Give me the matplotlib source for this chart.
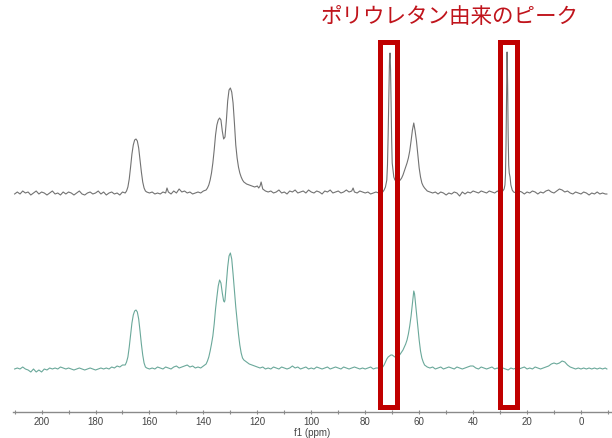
import matplotlib
matplotlib.use("Agg")
import matplotlib.pyplot as plt
from matplotlib.patches import Rectangle
from matplotlib.ticker import MultipleLocator

plt.rcParams["font.family"] = ["Liberation Sans", "DejaVu Sans"]

# ---- spectrum traces (ppm, intensity above baseline) ----
top_ppm = [210, 209, 208, 207, 206, 205, 204, 203, 202, 201, 200, 199, 198, 197, 196, 195, 194, 193, 192, 191,
           190, 189, 188, 187, 186, 185, 184, 183, 182, 181, 180, 179, 178, 177, 176, 175, 174, 173, 172, 171,
           170, 169, 168.5, 168, 167.5, 167, 166.5, 166, 165.5, 165, 164.5, 164, 163.5, 163, 162.5, 162, 161.5, 161,
           160, 159, 158, 157, 156, 155, 154, 153.5, 153, 152, 151, 150, 149, 148, 147, 146, 145, 144, 143, 142,
           141, 140, 139, 138.5, 138, 137.5, 137, 136.5, 136, 135.5, 135, 134.5, 134, 133.5, 133, 132.5, 132, 131.5,
           131, 130.5, 130, 129.5, 129, 128.5, 128, 127.5, 127, 126.5, 126, 125.5, 125, 124, 123, 122, 121, 120,
           119.5, 119, 118.6, 118, 117, 116, 115, 114, 113, 112, 111, 110, 109, 108, 107, 106, 105, 104, 103, 102,
           101, 100, 99, 98, 97, 96, 95, 94, 93, 92, 91, 90, 89, 88, 87, 86, 85, 84.5, 84, 83, 82, 81, 80, 79, 78,
           77, 76, 75, 74, 73.5, 73, 72.5, 72, 71.75, 71.5, 71.25, 71, 70.8, 70.6, 70.4, 70.2, 70, 69.7, 69.4, 69,
           68.5, 68, 67.5, 67, 66.5, 66, 65.5, 65, 64.5, 64, 63.5, 63, 62.5, 62, 61.5, 61, 60.5, 60, 59.5, 59, 58.5,
           58, 57, 56, 55, 54, 53, 52, 51, 50, 49, 48, 47, 46, 45, 44, 43, 42, 41, 40, 39, 38, 37, 36, 35, 34, 33,
           32, 31, 30, 29.5, 29, 28.5, 28.2, 28, 27.8, 27.6, 27.4, 27.2, 27, 26.8, 26.6, 26.3, 26, 25.5, 25, 24, 23,
           22, 21, 20, 19, 18, 17, 16, 15, 14, 13, 12, 11, 10, 9, 8, 7, 6, 5, 4, 3, 2, 1, 0, -1, -2, -3, -4, -5,
           -6, -7, -8, -9, -9.6]
top_int = [1, 3, 1, 4, 2, 3, 0, 2, 4, 1, 3, 2, 0, 2, 4, 1, 2, 0, 3, 1,
           3, 2, 0, 2, 4, 1, 0, 2, 3, 1, 2, 4, 1, 3, 0, 2, 3, 1, 2, 0,
           3, 2, 4, 8, 16, 28, 41, 50, 55, 56, 54, 47, 35, 23, 13, 7, 4, 3,
           2, 3, 1, 2, 1, 3, 2, 7, 3, 1, 4, 2, 6, 3, 4, 2, 3, 1, 2, 3,
           2, 4, 5, 7, 10, 15, 22, 32, 45, 60, 70, 75, 77, 75, 64, 56, 58, 74,
           94, 105, 107, 103, 92, 72, 50, 37, 28, 22, 18, 15, 13, 11, 10, 9, 8, 9,
           7, 9, 13, 6, 4, 3, 4, 2, 3, 5, 2, 3, 1, 4, 3, 5, 2, 3, 4, 2,
           5, 3, 2, 4, 3, 1, 4, 3, 5, 2, 3, 4, 2, 3, 5, 3, 4, 7, 3, 2, 4, 3, 2, 3, 1,
           2, 3, 2, 3, 3, 5, 8, 15, 30, 60, 100, 135, 142, 125, 90, 55, 32, 25, 18, 15,
           14, 13, 14, 15, 17, 20, 24, 28, 32, 37, 44, 54, 65, 72, 64, 54, 40, 27, 18, 12, 9,
           7, 4, 3, 2, 3, 1, 3, 2, 0, 2, 1, 3, 2, -1, 3, 1, 3, 2, 4, 3, 2, 4, 3, 2, 4, 3,
           2, 4, 2, 3, 4, 6, 10, 20, 50, 100, 143, 110, 60, 30, 22, 18, 10, 5, 3, 2, 4,
           3, 1, 3, 2, 4, 3, 1, 3, 2, 4, 5, 3, 2, 4, 6, 5, 3, 4, 2, 1, 3, 2, 1, 3, 2, 0, 2, 1,
           3, 1, 2, 1, 1]

bot_ppm = [210, 209, 208, 207, 206, 205, 204, 203, 202, 201, 200, 199, 198, 197, 196, 195, 194, 193, 192, 191,
           190, 189, 188, 187, 186, 185, 184, 183, 182, 181, 180, 179, 178, 177, 176, 175, 174, 173, 172, 171,
           170, 169, 168.5, 168, 167.5, 167, 166.5, 166, 165.5, 165, 164.5, 164, 163.5, 163, 162.5, 162, 161.5, 161,
           160, 159, 158, 157, 156, 155, 154, 153, 152, 151, 150, 149, 148, 147, 146, 145, 144, 143, 142, 141,
           140, 139, 138.5, 138, 137.5, 137, 136.5, 136, 135.5, 135, 134.5, 134, 133.5, 133, 132.5, 132.2, 132, 131.5,
           131, 130.5, 130, 129.5, 129, 128.5, 128, 127.5, 127, 126.5, 126, 125.5, 125, 124, 123, 122, 121, 120,
           119, 118, 117, 116, 115, 114, 113, 112, 111, 110, 109, 108, 107, 106, 105, 104, 103, 102, 101, 100,
           99, 98, 97, 96, 95, 94, 93, 92, 91, 90, 89, 88, 87, 86, 85, 84, 83, 82, 81, 80, 79, 78, 77, 76, 75,
           74, 73.5, 73, 72.5, 72, 71.5, 71, 70.5, 70, 69.5, 69, 68.5, 68, 67.5, 67, 66.5, 66, 65.5, 65, 64.5, 64,
           63.5, 63, 62.5, 62.2, 62, 61.7, 61.4, 61, 60.5, 60, 59.5, 59, 58.5, 58, 57, 56, 55, 54, 53, 52, 51, 50,
           49, 48, 47, 46, 45, 44, 43, 42, 41, 40, 39, 38, 37, 36, 35, 34, 33, 32, 31, 30, 29, 28, 27, 26, 25, 24,
           23, 22, 21, 20, 19, 18, 17, 16, 15, 14, 13, 12, 11, 10, 9, 8, 7, 6, 5, 4, 3, 2, 1, 0, -1, -2, -3, -4,
           -5, -6, -7, -8, -9, -9.6]
bot_int = [0, 1, 0, 2, 0, -1, -3, 0, -3, -1, -3, 0, -1, 1, 0, 1, 0, 2, 1, 0,
           1, 0, -1, 0, 1, 0, -1, 0, 1, 0, -1, 0, 1, 0, 1, 0, 2, 1, 3, 2,
           4, 4, 7, 12, 22, 34, 46, 54, 58, 59, 57, 50, 38, 25, 14, 6, 2, 1,
           0, 1, 0, 2, 1, 0, 2, 1, 0, 2, 3, 1, 2, 3, 4, 2, 3, 1, 2, 1,
           3, 5, 8, 12, 18, 25, 33, 45, 60, 72, 83, 89, 86, 76, 68, 67, 69, 85,
           102, 113, 116, 110, 95, 78, 62, 48, 35, 24, 16, 11, 9, 7, 5, 4, 3, 2,
           1, 2, 0, 1, 0, 2, 1, 0, 2, 1, 0, 1, 3, 1, 2, 0, 1, 2, 0, 1,
           0, 2, 1, 0, 1, 2, 0, 1, 2, 1, 0, 2, 1, 0, 1, 2, 1, 0, 1, 0, 1, 2, 0, 1, 1,
           1, 2, 4, 7, 10, 12, 13, 14, 14, 13, 12, 12, 12, 13, 15, 17, 19, 22, 25, 29, 35,
           43, 53, 65, 73, 78, 75, 67, 56, 42, 29, 18, 11, 7, 4, 2, 1, 2, 0, 1, 2, 0, 1,
           2, 1, 0, 2, 1, 0, 1, 2, 3, 3, 1, 0, 2, 1, 0, 1, 2, 0, 1, -1, 1, 0, -1, 1, 0, 1,
           0, 1, 2, 0, 1, 0, 2, 1, 0, 1, 2, 3, 5, 6, 5, 6, 8, 7, 4, 2, 1, 0, 1, 0, 1, 0, 1, 0,
           1, 0, 1, 0, 1, 0]

TOP_OFFSET = 217
BOT_OFFSET = 43
BOXES = [(74.4, 68.1), (29.9, 23.9)]   # highlighted ppm ranges
RED = "#c00000"

fig = plt.figure(figsize=(6.12, 4.38), dpi=100)
ax = fig.add_axes([13 / 612, 26 / 438, 599 / 612, 412 / 438])

ax.plot(top_ppm, [v + TOP_OFFSET for v in top_int], color="#727272", lw=0.8)
ax.plot(bot_ppm, [v + BOT_OFFSET for v in bot_int], color="#6aa89a", lw=0.8)

for hi, lo in BOXES:
    ax.add_patch(Rectangle((lo, 5.5), hi - lo, 365, fill=False, ec=RED, lw=3.6, clip_on=False, zorder=5))

ax.set_xlim(210.6, -11.5)
ax.set_ylim(0, 412)
for s in ("top", "left", "right"):
    ax.spines[s].set_visible(False)
ax.spines["bottom"].set_color("#8a8a8a")
ax.spines["bottom"].set_linewidth(1.0)
ax.set_yticks([])
ax.xaxis.set_major_locator(MultipleLocator(20))
ax.xaxis.set_minor_locator(MultipleLocator(10))
ax.tick_params(axis="x", which="both", direction="inout", length=3, width=0.8, color="#8a8a8a",
               labelsize=7, labelcolor="#444444", pad=2)
ax.set_xlabel("f1 (ppm)", fontsize=7, color="#444444", labelpad=1)

fig.text(450 / 612, 1 - 17 / 438, "ポリウレタン由来のピーク", color="#c0141c", fontsize=15.5,
         ha="center", va="center", family=["Noto Sans CJK JP", "DejaVu Sans"])

fig.savefig("out.png", dpi=100)
